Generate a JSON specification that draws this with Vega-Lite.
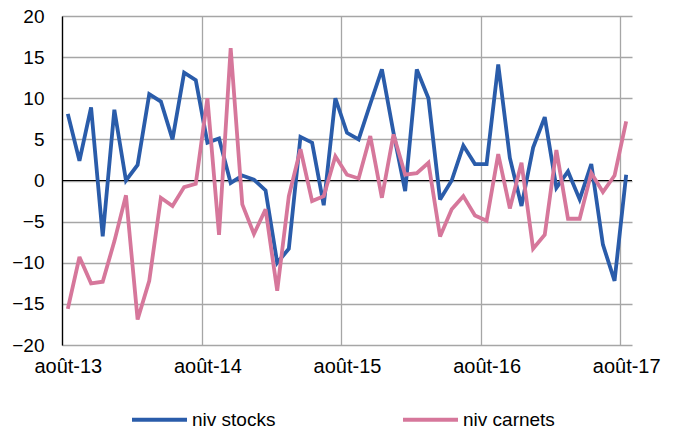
{
  "$schema": "https://vega.github.io/schema/vega-lite/v6.json",
  "width": 570,
  "height": 329,
  "autosize": {"type": "none"},
  "padding": {"left": 62, "top": 16, "right": 44, "bottom": 85},
  "background": "white",
  "config": {
    "view": {"stroke": null},
    "font": "Liberation Sans",
    "axis": {"labelFont": "Liberation Sans", "labelColor": "#000000", "labelFontSize": 19},
    "legend": {"labelFont": "Liberation Sans", "labelColor": "#000000", "labelFontSize": 19}
  },
  "data": {
    "values": [
      {"mois": "août-13", "niv stocks": 8.1, "niv carnets": -15.6},
      {"mois": "sept-13", "niv stocks": 2.4, "niv carnets": -9.3},
      {"mois": "oct-13", "niv stocks": 8.9, "niv carnets": -12.5},
      {"mois": "nov-13", "niv stocks": -6.8, "niv carnets": -12.3},
      {"mois": "déc-13", "niv stocks": 8.6, "niv carnets": -7.4},
      {"mois": "janv-14", "niv stocks": 0.0, "niv carnets": -1.8},
      {"mois": "févr-14", "niv stocks": 1.9, "niv carnets": -16.9},
      {"mois": "mars-14", "niv stocks": 10.5, "niv carnets": -12.2},
      {"mois": "avr-14", "niv stocks": 9.6, "niv carnets": -2.1},
      {"mois": "mai-14", "niv stocks": 5.0, "niv carnets": -3.1},
      {"mois": "juin-14", "niv stocks": 13.1, "niv carnets": -0.8},
      {"mois": "juil-14", "niv stocks": 12.2, "niv carnets": -0.4},
      {"mois": "août-14", "niv stocks": 4.6, "niv carnets": 10.0},
      {"mois": "sept-14", "niv stocks": 5.1, "niv carnets": -6.6},
      {"mois": "oct-14", "niv stocks": -0.3, "niv carnets": 16.1},
      {"mois": "nov-14", "niv stocks": 0.6, "niv carnets": -2.9},
      {"mois": "déc-14", "niv stocks": 0.1, "niv carnets": -6.5},
      {"mois": "janv-15", "niv stocks": -1.2, "niv carnets": -3.5},
      {"mois": "févr-15", "niv stocks": -10.0, "niv carnets": -13.4},
      {"mois": "mars-15", "niv stocks": -8.3, "niv carnets": -1.9},
      {"mois": "avr-15", "niv stocks": 5.3, "niv carnets": 3.8},
      {"mois": "mai-15", "niv stocks": 4.6, "niv carnets": -2.5},
      {"mois": "juin-15", "niv stocks": -3.0, "niv carnets": -1.9},
      {"mois": "juil-15", "niv stocks": 10.0, "niv carnets": 2.95},
      {"mois": "août-15", "niv stocks": 5.8, "niv carnets": 0.7},
      {"mois": "sept-15", "niv stocks": 5.0, "niv carnets": 0.25},
      {"mois": "oct-15", "niv stocks": 9.3, "niv carnets": 5.4},
      {"mois": "nov-15", "niv stocks": 13.5, "niv carnets": -2.1},
      {"mois": "déc-15", "niv stocks": 5.8, "niv carnets": 5.6},
      {"mois": "janv-16", "niv stocks": -1.3, "niv carnets": 0.7},
      {"mois": "févr-16", "niv stocks": 13.5, "niv carnets": 0.9},
      {"mois": "mars-16", "niv stocks": 10.0, "niv carnets": 2.15},
      {"mois": "avr-16", "niv stocks": -2.3, "niv carnets": -6.8},
      {"mois": "mai-16", "niv stocks": 0.0, "niv carnets": -3.5},
      {"mois": "juin-16", "niv stocks": 4.25, "niv carnets": -1.9},
      {"mois": "juil-16", "niv stocks": 2.0, "niv carnets": -4.25},
      {"mois": "août-16", "niv stocks": 2.0, "niv carnets": -4.9},
      {"mois": "sept-16", "niv stocks": 14.1, "niv carnets": 3.2},
      {"mois": "oct-16", "niv stocks": 2.75, "niv carnets": -3.4},
      {"mois": "nov-16", "niv stocks": -3.1, "niv carnets": 2.15},
      {"mois": "déc-16", "niv stocks": 4.0, "niv carnets": -8.3},
      {"mois": "janv-17", "niv stocks": 7.7, "niv carnets": -6.6},
      {"mois": "févr-17", "niv stocks": -0.9, "niv carnets": 3.7},
      {"mois": "mars-17", "niv stocks": 1.1, "niv carnets": -4.65},
      {"mois": "avr-17", "niv stocks": -2.3, "niv carnets": -4.65},
      {"mois": "mai-17", "niv stocks": 2.0, "niv carnets": 0.9},
      {"mois": "juin-17", "niv stocks": -7.8, "niv carnets": -1.4},
      {"mois": "juil-17", "niv stocks": -12.2, "niv carnets": 0.6},
      {"mois": "août-17", "niv stocks": 0.7, "niv carnets": 7.2}
    ]
  },
  "layer": [
    {
      "mark": {"type": "rule", "color": "#000000", "strokeWidth": 1.2},
      "encoding": {"y": {"datum": 0, "type": "quantitative", "scale": {"domain": [-20, 20]}}}
    },
    {
      "transform": [{"fold": ["niv stocks", "niv carnets"], "as": ["serie", "valeur"]}],
      "mark": {"type": "line", "strokeWidth": 3.8, "strokeJoin": "miter", "strokeMiterLimit": 3},
      "encoding": {
        "x": {
          "field": "mois",
          "type": "ordinal",
          "sort": null,
          "scale": {"type": "point", "padding": 0.5},
          "axis": {
            "title": null,
            "values": ["août-13", "août-14", "août-15", "août-16", "août-17"],
            "labelAngle": 0,
            "domain": false,
            "ticks": false,
            "grid": true,
            "gridColor": "#a6a6a6",
            "gridWidth": 1.3,
            "tickOffset": -5.82,
            "labelOffset": 5.82,
            "labelPadding": 11,
            "labelFontSize": 20
          }
        },
        "y": {
          "field": "valeur",
          "type": "quantitative",
          "scale": {"domain": [-20, 20], "nice": false},
          "axis": {
            "title": null,
            "values": [-20, -15, -10, -5, 0, 5, 10, 15, 20],
            "domain": true,
            "domainColor": "#000000",
            "domainWidth": 1.3,
            "ticks": false,
            "grid": true,
            "gridColor": "#a6a6a6",
            "gridWidth": 1.3,
            "labelPadding": 18
          }
        },
        "color": {
          "field": "serie",
          "type": "nominal",
          "sort": ["niv stocks", "niv carnets"],
          "scale": {"domain": ["niv stocks", "niv carnets"], "range": ["#2a5caa", "#d6779b"]},
          "legend": {
            "title": null,
            "orient": "none",
            "legendX": 68,
            "legendY": 374,
            "direction": "horizontal",
            "symbolType": "stroke",
            "symbolSize": 3025,
            "symbolStrokeWidth": 4,
            "labelOffset": 3,
            "columnPadding": 119
          }
        }
      }
    }
  ]
}
